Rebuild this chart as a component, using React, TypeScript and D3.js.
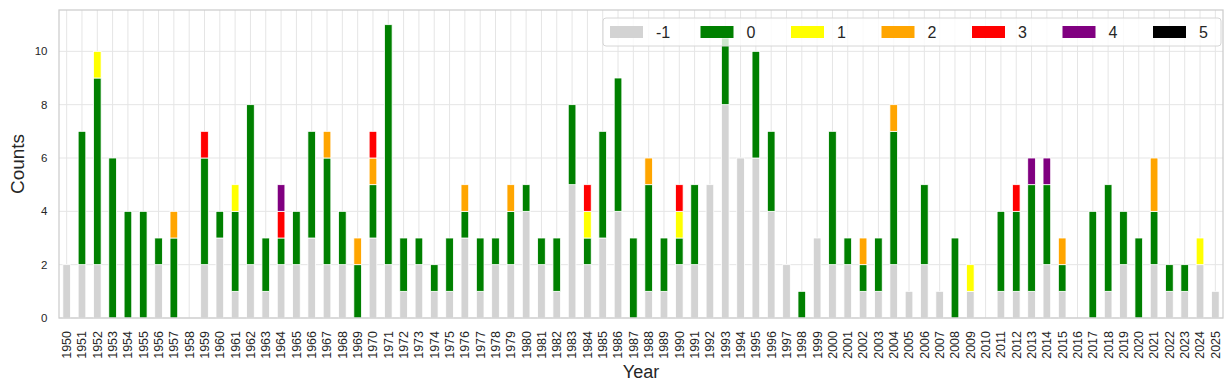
import React, { useEffect, useRef } from "react";
import * as d3 from "d3";

// years on the x axis
const years = d3.range(1950, 2026).map(String);

// stacked categories and colours
const keys = ["-1", "0", "1", "2", "3", "4", "5"];
const colors = ["lightgray", "green", "yellow", "orange", "red", "purple", "black"];

// counts per year, one array per category (same order as years)
const cMinus1 = [
  2, 2, 2, 0, 0, 0, 2, 0, 0, 2, 3, 1, 2, 1, 2, 2, 3, 2, 2, 0,
  3, 2, 1, 2, 1, 1, 3, 1, 2, 2, 4, 2, 1, 5, 2, 3, 4, 0, 1, 1,
  2, 2, 5, 8, 6, 6, 4, 2, 0, 3, 2, 2, 1, 1, 2, 1, 2, 1, 0, 1,
  0, 1, 1, 1, 2, 1, 0, 0, 1, 2, 0, 2, 1, 1, 2, 1,
];
const c0 = [
  0, 5, 7, 6, 4, 4, 1, 3, 0, 4, 1, 3, 6, 2, 1, 2, 4, 4, 2, 2,
  2, 9, 2, 1, 1, 2, 1, 2, 1, 2, 1, 1, 2, 3, 1, 4, 5, 3, 4, 2,
  1, 3, 0, 2.5, 0, 4, 3, 0, 1, 0, 5, 1, 1, 2, 5, 0, 3, 0, 3, 0,
  0, 3, 3, 4, 3, 1, 0, 4, 4, 2, 3, 2, 1, 1, 0, 0,
];
const c1 = [
  0, 0, 1, 0, 0, 0, 0, 0, 0, 0, 0, 1, 0, 0, 0, 0, 0, 0, 0, 0,
  0, 0, 0, 0, 0, 0, 0, 0, 0, 0, 0, 0, 0, 0, 1, 0, 0, 0, 0, 0,
  1, 0, 0, 0, 0, 0, 0, 0, 0, 0, 0, 0, 0, 0, 0, 0, 0, 0, 0, 1,
  0, 0, 0, 0, 0, 0, 0, 0, 0, 0, 0, 0, 0, 0, 1, 0,
];
const c2 = [
  0, 0, 0, 0, 0, 0, 0, 1, 0, 0, 0, 0, 0, 0, 0, 0, 0, 1, 0, 1,
  1, 0, 0, 0, 0, 0, 1, 0, 0, 1, 0, 0, 0, 0, 0, 0, 0, 0, 1, 0,
  0, 0, 0, 0, 0, 0, 0, 0, 0, 0, 0, 0, 1, 0, 1, 0, 0, 0, 0, 0,
  0, 0, 0, 0, 0, 1, 0, 0, 0, 0, 0, 2, 0, 0, 0, 0,
];
const c3 = [
  0, 0, 0, 0, 0, 0, 0, 0, 0, 1, 0, 0, 0, 0, 1, 0, 0, 0, 0, 0,
  1, 0, 0, 0, 0, 0, 0, 0, 0, 0, 0, 0, 0, 0, 1, 0, 0, 0, 0, 0,
  1, 0, 0, 0, 0, 0, 0, 0, 0, 0, 0, 0, 0, 0, 0, 0, 0, 0, 0, 0,
  0, 0, 1, 0, 0, 0, 0, 0, 0, 0, 0, 0, 0, 0, 0, 0,
];
const c4 = [
  0, 0, 0, 0, 0, 0, 0, 0, 0, 0, 0, 0, 0, 0, 1, 0, 0, 0, 0, 0,
  0, 0, 0, 0, 0, 0, 0, 0, 0, 0, 0, 0, 0, 0, 0, 0, 0, 0, 0, 0,
  0, 0, 0, 0, 0, 0, 0, 0, 0, 0, 0, 0, 0, 0, 0, 0, 0, 0, 0, 0,
  0, 0, 0, 1, 1, 0, 0, 0, 0, 0, 0, 0, 0, 0, 0, 0,
];
const c5 = years.map(() => 0);

const series = [cMinus1, c0, c1, c2, c3, c4, c5];
const yTicks = [0, 2, 4, 6, 8, 10];

const font = "'Liberation Sans', Arial, sans-serif";

const App = () => {
  const svgRef = useRef(null);
  const W = 1231;
  const H = 392;
  const margin = { top: 10, right: 8, bottom: 74, left: 59 };

  useEffect(() => {
    const svg = d3.select(svgRef.current);
    svg.selectAll("*").remove();

    const rows = years.map((yr, i) => {
      const r: any = { year: yr };
      keys.forEach((k, j) => (r[k] = series[j][i]));
      return r;
    });
    const stacked = d3.stack().keys(keys)(rows);

    const x = d3
      .scaleBand()
      .domain(years)
      .range([margin.left, W - margin.right])
      .paddingInner(0.5)
      .paddingOuter(0.25);

    const maxTotal = d3.max(rows, (r) => d3.sum(keys, (k) => r[k])) as number;
    const y = d3
      .scaleLinear()
      .domain([0, maxTotal * 1.05])
      .range([H - margin.bottom, margin.top]);

    // grid
    const grid = svg.append("g");
    grid
      .selectAll("line.h")
      .data(yTicks)
      .enter()
      .append("line")
      .attr("x1", margin.left)
      .attr("x2", W - margin.right)
      .attr("y1", (d) => y(d))
      .attr("y2", (d) => y(d))
      .attr("stroke", "#e5e5e5")
      .attr("stroke-width", 1);
    grid
      .selectAll("line.v")
      .data(years)
      .enter()
      .append("line")
      .attr("x1", (d) => x(d)! + x.bandwidth() / 2)
      .attr("x2", (d) => x(d)! + x.bandwidth() / 2)
      .attr("y1", margin.top)
      .attr("y2", H - margin.bottom)
      .attr("stroke", "#e5e5e5")
      .attr("stroke-width", 1);

    // bars
    svg
      .append("g")
      .selectAll("g")
      .data(stacked)
      .enter()
      .append("g")
      .attr("fill", (_d, i) => colors[i])
      .selectAll("rect")
      .data((d) => d.filter((s) => s[1] - s[0] > 0))
      .enter()
      .append("rect")
      .attr("x", (d: any) => x(d.data.year)!)
      .attr("y", (d) => y(d[1]))
      .attr("width", x.bandwidth())
      .attr("height", (d) => y(d[0]) - y(d[1]))
      .attr("stroke", "white")
      .attr("stroke-width", 0.8);

    // frame
    svg
      .append("rect")
      .attr("x", margin.left)
      .attr("y", margin.top)
      .attr("width", W - margin.left - margin.right)
      .attr("height", H - margin.top - margin.bottom)
      .attr("fill", "none")
      .attr("stroke", "#cccccc")
      .attr("stroke-width", 1.25);

    // y tick labels
    svg
      .append("g")
      .selectAll("text")
      .data(yTicks)
      .enter()
      .append("text")
      .attr("x", margin.left - 11.5)
      .attr("y", (d) => y(d))
      .attr("dy", "0.35em")
      .attr("text-anchor", "end")
      .attr("font-family", font)
      .attr("font-size", 11.5)
      .attr("fill", "#262626")
      .text((d) => d);

    // x tick labels
    svg
      .append("g")
      .selectAll("text")
      .data(years)
      .enter()
      .append("text")
      .attr(
        "transform",
        (d) =>
          `translate(${x(d)! + x.bandwidth() / 2},${H - margin.bottom + 13}) rotate(-90)`
      )
      .attr("dy", "0.35em")
      .attr("text-anchor", "end")
      .attr("font-family", font)
      .attr("font-size", 12.5)
      .attr("fill", "#262626")
      .text((d) => d);

    // axis titles
    svg
      .append("text")
      .attr("x", (margin.left + W - margin.right) / 2)
      .attr("y", 378)
      .attr("text-anchor", "middle")
      .attr("font-family", font)
      .attr("font-size", 18)
      .attr("fill", "#262626")
      .text("Year");
    svg
      .append("text")
      .attr("transform", `translate(24,${(margin.top + H - margin.bottom) / 2}) rotate(-90)`)
      .attr("text-anchor", "middle")
      .attr("font-family", font)
      .attr("font-size", 19)
      .attr("fill", "#262626")
      .text("Counts");

    // legend
    const lg = svg.append("g").attr("transform", "translate(603,18)");
    lg.append("rect")
      .attr("width", 618)
      .attr("height", 28)
      .attr("rx", 3)
      .attr("fill", "white")
      .attr("fill-opacity", 0.8)
      .attr("stroke", "#d6d6d6");
    const item = lg
      .selectAll("g.item")
      .data(keys)
      .enter()
      .append("g")
      .attr("transform", (_d, i) => `translate(${7 + i * 90.5},0)`);
    item
      .append("rect")
      .attr("y", 8)
      .attr("width", 33)
      .attr("height", 12)
      .attr("fill", (_d, i) => colors[i]);
    item
      .append("text")
      .attr("x", 46)
      .attr("y", 14)
      .attr("dy", "0.35em")
      .attr("font-family", font)
      .attr("font-size", 16)
      .attr("fill", "#262626")
      .text((d) => d);
  }, []);

  return (
    <div style={{ position: "absolute", left: 0, top: 0 }}>
      <svg ref={svgRef} width={W} height={H} style={{ display: "block" }} />
    </div>
  );
};

export default App;
